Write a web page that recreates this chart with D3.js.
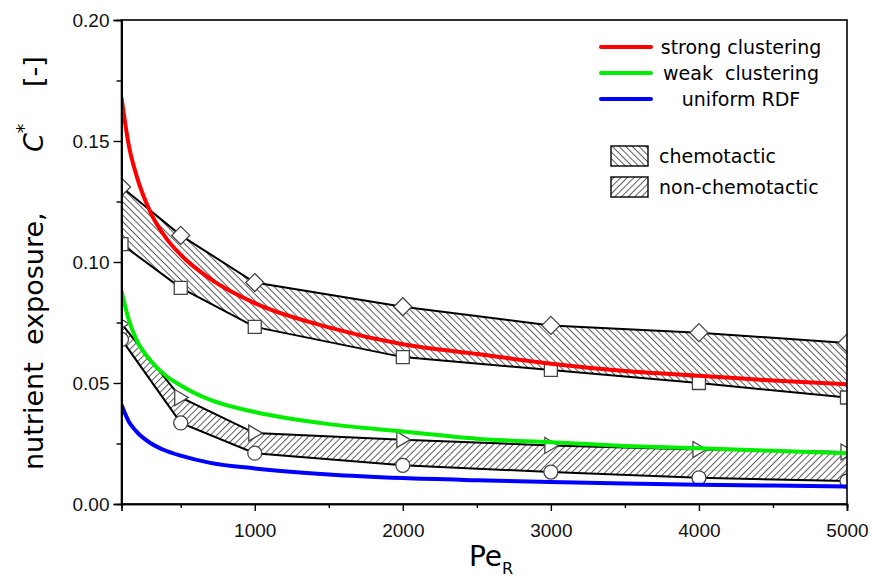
<!DOCTYPE html>
<html>
<head>
<meta charset="utf-8">
<script src="https://cdn.jsdelivr.net/npm/d3@7"></script>
<style>
  html, body { margin: 0; padding: 0; background: #fff; }
  svg { display: block; }
  text { white-space: pre; }
</style>
</head>
<body>
<svg id="chart" width="872" height="578"></svg>
<script>
// Rotational Péclet number at the simulated points
const pe = [100, 500, 1000, 2000, 3000, 4000, 5000];

// Chemotactic band: upper (diamonds) and lower (squares) bounds
const chemoUpper = [0.131, 0.111, 0.0915, 0.0815, 0.0738, 0.0708, 0.0665];
const chemoLower = [0.1074, 0.0893, 0.0732, 0.0607, 0.0554, 0.0500, 0.0440];

// Non-chemotactic band: upper (triangles) and lower (circles) bounds
const nonChemoUpper = [0.0745, 0.0440, 0.0293, 0.0266, 0.0242, 0.0225, 0.0215];
const nonChemoLower = [0.0680, 0.0335, 0.0210, 0.0160, 0.0132, 0.0108, 0.0095];

// Continuous model curves
const peCurve = [100, 150, 200, 300, 400, 500, 700, 1000, 1500, 2000, 2500, 3000, 3500, 4000, 4500, 5000];
const strongClustering = [0.168, 0.148, 0.136, 0.120, 0.110, 0.103, 0.093, 0.083, 0.073, 0.066, 0.062, 0.058, 0.055, 0.053, 0.051, 0.0495];
const weakClustering   = [0.088, 0.076, 0.068, 0.059, 0.053, 0.049, 0.043, 0.038, 0.033, 0.030, 0.027, 0.0255, 0.024, 0.023, 0.022, 0.021];
const uniformRDF       = [0.041, 0.034, 0.030, 0.025, 0.022, 0.020, 0.017, 0.0147, 0.0122, 0.0107, 0.0098, 0.0091, 0.0085, 0.0080, 0.0076, 0.0072];

// Axis ticks
const xMajorTicks = [1000, 2000, 3000, 4000, 5000];
const xMinorTicks = [500, 1500, 2500, 3500, 4500];
const yMajorTicks = [0, 0.05, 0.10, 0.15, 0.20];
const yMinorTicks = [0.025, 0.075, 0.125, 0.175];

const curveSeries = [
  { name: "strong clustering", values: strongClustering, color: "#ff0000" },
  { name: "weak  clustering",  values: weakClustering,   color: "#00ee00" },
  { name: "uniform RDF",       values: uniformRDF,       color: "#0000ff" }
];

const svg = d3.select("#chart");
const margin = { left: 121.5, right: 847, top: 20, bottom: 504 };

const x = d3.scaleLinear().domain([100, 5000]).range([margin.left, margin.right]);
const y = d3.scaleLinear().domain([0, 0.20]).range([margin.bottom, margin.top]);

const defs = svg.append("defs");

// Hatch fills
function hatch(id, angle) {
  const p = defs.append("pattern")
    .attr("id", id)
    .attr("patternUnits", "userSpaceOnUse")
    .attr("width", 4.7).attr("height", 4.7)
    .attr("patternTransform", `rotate(${angle})`);
  p.append("rect").attr("width", 4.7).attr("height", 4.7).attr("fill", "#fff");
  p.append("line")
    .attr("x1", 0.5).attr("y1", 0).attr("x2", 0.5).attr("y2", 4.7)
    .attr("stroke", "#4a4a4a").attr("stroke-width", 0.9);
}
hatch("hatchBack", -45);
hatch("hatchFwd", 45);

defs.append("clipPath").attr("id", "plotClip")
  .append("rect")
  .attr("x", margin.left).attr("y", margin.top)
  .attr("width", margin.right - margin.left)
  .attr("height", margin.bottom - margin.top);

const plot = svg.append("g").attr("clip-path", "url(#plotClip)");

// Shaded bands between bounds
function band(upper, lower, fillId) {
  const pts = pe.map((p, i) => [x(p), y(upper[i])])
    .concat(pe.map((p, i) => [x(p), y(lower[i])]).reverse());
  plot.append("path")
    .attr("d", d3.line()(pts) + "Z")
    .attr("fill", `url(#${fillId})`)
    .attr("stroke", "none");
}
band(chemoUpper, chemoLower, "hatchBack");
band(nonChemoUpper, nonChemoLower, "hatchFwd");

// Bound lines
const boundLine = d3.line().x((d, i) => x(pe[i])).y(d => y(d));
[chemoUpper, chemoLower, nonChemoUpper, nonChemoLower].forEach(vals => {
  plot.append("path")
    .attr("d", boundLine(vals))
    .attr("fill", "none")
    .attr("stroke", "#000")
    .attr("stroke-width", 2);
});

// Markers
const markerStyle = sel => sel.attr("fill", "#fff").attr("stroke", "#444").attr("stroke-width", 1.3);
const markerShapes = [
  { values: chemoUpper,    path: "M0,-9L9,0L0,9L-9,0Z" },
  { values: chemoLower,    path: "M-6.5,-6.5H6.5V6.5H-6.5Z" },
  { values: nonChemoUpper, path: "M-6,-8L7.5,0L-6,8Z" },
  { values: nonChemoLower, path: d3.symbol(d3.symbolCircle, Math.PI * 49)() }
];
markerShapes.forEach(m => {
  plot.append("g").selectAll("path")
    .data(m.values)
    .join("path")
    .attr("d", m.path)
    .attr("transform", (d, i) => `translate(${x(pe[i])},${y(d)})`)
    .call(markerStyle);
});

// Model curves
const curveLine = d3.line()
  .x((d, i) => x(peCurve[i]))
  .y(d => y(d))
  .curve(d3.curveMonotoneX);
curveSeries.forEach(s => {
  plot.append("path")
    .attr("d", curveLine(s.values))
    .attr("fill", "none")
    .attr("stroke", s.color)
    .attr("stroke-width", 4);
});

// Frame
svg.append("rect")
  .attr("x", margin.left).attr("y", margin.top)
  .attr("width", margin.right - margin.left)
  .attr("height", margin.bottom - margin.top)
  .attr("fill", "none").attr("stroke", "#000").attr("stroke-width", 1.6);

// Axes
const tickFont = "'Liberation Sans', Arial, sans-serif";
svg.append("g")
  .attr("transform", `translate(0,${margin.bottom})`)
  .call(d3.axisBottom(x).tickValues(xMajorTicks).tickSize(7).tickPadding(13).tickFormat(d3.format("d")));
svg.append("g")
  .attr("transform", `translate(0,${margin.bottom})`)
  .call(d3.axisBottom(x).tickValues(xMinorTicks).tickSize(4).tickFormat(""));
svg.append("g")
  .attr("transform", `translate(${margin.left},0)`)
  .call(d3.axisLeft(y).tickValues(yMajorTicks).tickSize(8).tickPadding(4).tickFormat(d3.format(".2f")));
svg.append("g")
  .attr("transform", `translate(${margin.left},0)`)
  .call(d3.axisLeft(y).tickValues(yMinorTicks).tickSize(5).tickFormat(""));

svg.selectAll(".domain").attr("stroke", "#000").attr("stroke-width", 1.6);
svg.selectAll(".tick line").attr("stroke", "#000").attr("stroke-width", 1.4);
svg.selectAll(".tick text")
  .attr("font-family", tickFont)
  .attr("font-size", 19)
  .attr("fill", "#111");

// Axis titles
const titleFont = "'DejaVu Sans', Verdana, sans-serif";
const xt = svg.append("text")
  .attr("x", 491).attr("y", 566)
  .attr("text-anchor", "middle")
  .attr("font-family", titleFont)
  .attr("font-size", 28)
  .attr("fill", "#000");
xt.append("tspan").text("Pe");
xt.append("tspan").attr("font-size", 16).attr("dy", 8).text("R");

// Y title pieces, positioned along the rotated baseline
const yt = svg.append("text")
  .attr("transform", "translate(43,0) rotate(-90)")
  .attr("font-family", titleFont)
  .attr("font-size", 27)
  .attr("fill", "#000");
yt.append("tspan").attr("x", -470).attr("y", 0).text("nutrient");
yt.append("tspan").attr("x", -345).attr("y", 0).text("exposure,");
yt.append("tspan").attr("x", -152).attr("y", 0).attr("font-style", "italic").text("C");
yt.append("tspan").attr("y", -13).attr("font-size", 19).text("*");
yt.append("tspan").attr("x", -87).attr("y", 0).text("[-]");

// Legend: model curves
const legendFont = "'DejaVu Sans', Verdana, sans-serif";
const lg = svg.append("g");
curveSeries.forEach((s, i) => {
  const ly = 47 + i * 26;
  lg.append("line")
    .attr("x1", 601).attr("x2", 651)
    .attr("y1", ly).attr("y2", ly)
    .attr("stroke", s.color).attr("stroke-width", 4)
    .attr("stroke-linecap", "round");
  lg.append("text")
    .attr("x", 741).attr("y", ly + 7)
    .attr("text-anchor", "middle")
    .attr("font-family", legendFont)
    .attr("font-size", 19)
    .attr("fill", "#000")
    .text(s.name);
});

// Legend: hatched bands
[
  { name: "chemotactic", fill: "hatchBack", y: 146 },
  { name: "non-chemotactic", fill: "hatchFwd", y: 177 }
].forEach(b => {
  lg.append("rect")
    .attr("x", 611).attr("y", b.y)
    .attr("width", 37).attr("height", 20)
    .attr("fill", `url(#${b.fill})`)
    .attr("stroke", "#000").attr("stroke-width", 1.4);
  lg.append("text")
    .attr("x", 659).attr("y", b.y + 17)
    .attr("font-family", legendFont)
    .attr("font-size", 19)
    .attr("fill", "#000")
    .text(b.name);
});
</script>
</body>
</html>
